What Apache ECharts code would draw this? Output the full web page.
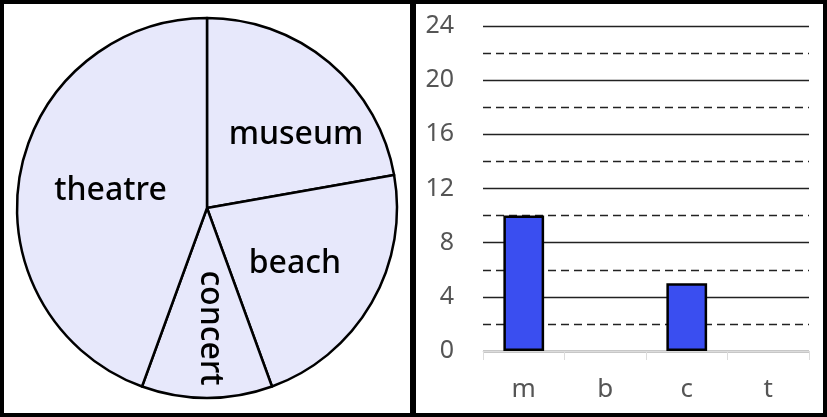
<!DOCTYPE html>
<html lang="en">
  <head>
    <meta charset="UTF-8" />
    <title>Trips</title>
    <script src="https://cdn.jsdelivr.net/npm/echarts@6/dist/echarts.min.js"></script>
    <style>
      body {
        margin: 0;
        padding: 0;
        background: #fff;
      }
      #wrap {
        display: flex;
        width: 827px;
        height: 417px;
      }
      #left-chart,
      #right-chart {
        box-sizing: border-box;
        height: 417px;
        border: 4px solid #000;
      }
      #left-chart { width: 413px; border-right-width: 3px; }
      #right-chart { width: 414px; border-left-width: 3px; }
    </style>
  </head>
  <body>
    <div id="wrap">
      <div id="left-chart"></div>
      <div id="right-chart"></div>
    </div>

    <script>
      // pie data
      var pieNames = ['museum', 'beach', 'concert', 'theatre'];
      var pieValues = [10, 10, 5, 20];
      // bar data
      var barCategories = ['m', 'b', 'c', 't'];
      var barValues = [10, 0, 5, 0];

      var fontName = 'Noto Sans';

      // label nudges for the pie (dx, dy in the label's own rotated frame)
      var pieLabelShift = [[26, 2], [3, 7], [22, -3], [0, 0]];
      var pieLabelRotate = [0, 0, -90, 0];

      var leftChart = echarts.init(document.getElementById('left-chart'));
      leftChart.setOption({
        animation: false,
        series: [
          {
            type: 'pie',
            center: [203, 204],
            radius: 190,
            startAngle: 90,
            clockwise: true,
            silent: true,
            itemStyle: {
              color: '#E7E8FB',
              borderColor: '#000',
              borderWidth: 2.5
            },
            label: {
              position: 'inside',
              color: '#000',
              fontFamily: fontName,
              fontWeight: 500,
              fontSize: 32
            },
            labelLine: { show: false },
            labelLayout: function (params) {
              var s = pieLabelShift[params.dataIndex];
              return { dx: s[0], dy: s[1] };
            },
            data: pieNames.map(function (name, i) {
              return {
                name: name,
                value: pieValues[i],
                label: { rotate: pieLabelRotate[i] }
              };
            })
          }
        ]
      });

      var rightChart = echarts.init(document.getElementById('right-chart'));
      rightChart.setOption({
        animation: false,
        grid: {
          left: 67,
          right: 14,
          top: 22,
          bottom: 62
        },
        xAxis: {
          type: 'category',
          data: barCategories,
          axisLine: { lineStyle: { color: '#dcdcdc', width: 1 } },
          axisTick: { show: true, length: 9, lineStyle: { color: '#dcdcdc' } },
          axisLabel: {
            color: '#555',
            fontFamily: fontName,
            fontSize: 26,
            margin: 26
          }
        },
        yAxis: {
          type: 'value',
          min: 0,
          max: 24,
          interval: 4,
          axisLine: { show: false },
          axisTick: { show: false },
          axisLabel: {
            color: '#555',
            fontFamily: fontName,
            fontSize: 25,
            margin: 29
          },
          splitLine: { lineStyle: { color: '#222', width: 1.4 } },
          minorTick: { show: false, splitNumber: 2 },
          minorSplitLine: {
            show: true,
            lineStyle: { color: '#222', width: 1.4, type: [8, 5] }
          }
        },
        series: [
          {
            type: 'bar',
            barWidth: '50%',
            silent: true,
            data: barValues.map(function (v) {
              return {
                value: v,
                itemStyle: {
                  color: '#3A4EF0',
                  borderColor: '#000',
                  borderWidth: v === 0 ? 0 : 2.5
                }
              };
            })
          }
        ]
      });
    </script>
  </body>
</html>
